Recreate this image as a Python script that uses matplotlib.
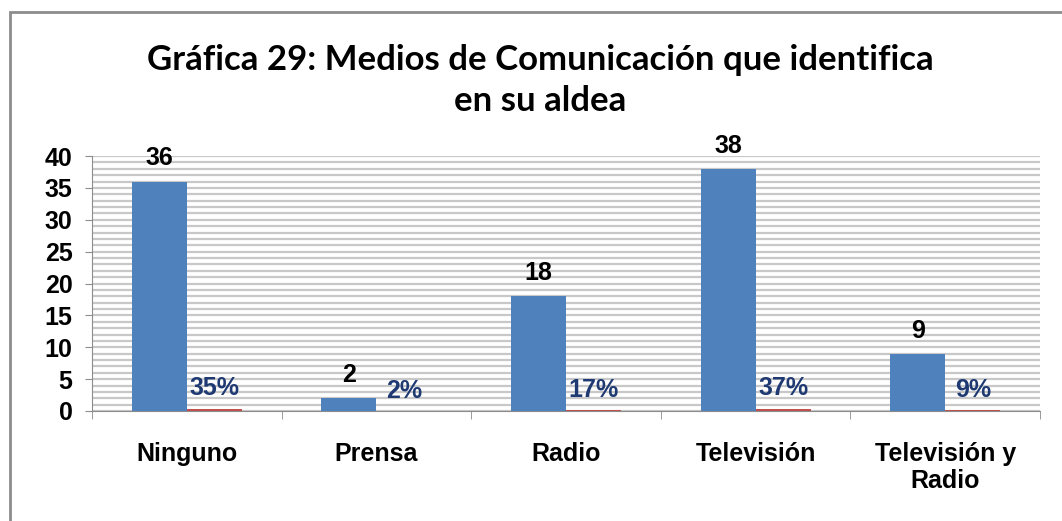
import matplotlib.pyplot as plt
import numpy as np

# Data
categorias = ['Ninguno', 'Prensa', 'Radio', 'Televisión', 'Televisión y\nRadio']
frecuencia = [36, 2, 18, 38, 9]
porcentaje = [0.35, 0.02, 0.17, 0.37, 0.09]
etiquetas_pct = ['35%', '2%', '17%', '37%', '9%']

azul = '#4F81BD'
rojo = '#C0504D'
azul_texto = '#1F3A73'
fuente = 'Liberation Sans'

fig = plt.figure(figsize=(10.62, 5.21), dpi=100)
ax = fig.add_axes([92 / 1062, 110 / 521, 948 / 1062, 255 / 521])

# Outer chart border
fig.patches.append(plt.Rectangle((10 / 1062, -0.05), 1.2, 0.05 + 509 / 521,
                                 transform=fig.transFigure, fill=False,
                                 edgecolor='#8C8C8C', linewidth=2))

x = np.arange(len(categorias))
w = 0.29
b1 = ax.bar(x - w / 2, frecuencia, w, color=azul, zorder=3)
b2 = ax.bar(x + w / 2, porcentaje, w, color=rojo, zorder=3)

for rect, v in zip(b1, frecuencia):
    ax.annotate(str(v), (rect.get_x() + rect.get_width() / 2, rect.get_height()),
                xytext=(0, 8), textcoords='offset points', ha='center', va='bottom',
                fontsize=18, fontweight='bold', family=fuente)
for rect, t in zip(b2, etiquetas_pct):
    ax.annotate(t, (rect.get_x() + rect.get_width() / 2, rect.get_height()),
                xytext=(0, 6), textcoords='offset points', ha='center', va='bottom',
                fontsize=18, fontweight='bold', color=azul_texto, family=fuente)

ax.set_xlim(-0.5, len(categorias) - 0.5)
ax.set_ylim(0, 40)
ax.set_yticks(range(0, 41, 5))
ax.set_yticks(range(0, 41, 1), minor=True)
ax.yaxis.grid(True, which='both', color='#C8C8C8', linewidth=1.6, zorder=0)
ax.set_axisbelow(True)

ax.set_xticks(x)
ax.set_xticklabels(categorias, fontsize=18, fontweight='bold', family=fuente,
                   linespacing=1.2)
ax.set_xticks(np.arange(-0.5, len(categorias), 1), minor=True)
ax.tick_params(axis='x', which='major', length=0, pad=22)
ax.tick_params(axis='x', which='minor', length=6, color='#8C8C8C')
ax.tick_params(axis='y', which='major', length=5, color='#8C8C8C', pad=9)
ax.tick_params(axis='y', which='minor', length=0)
for lab in ax.get_yticklabels():
    lab.set_fontsize(18)
    lab.set_fontweight('bold')
    lab.set_family(fuente)

for s in ['top', 'right']:
    ax.spines[s].set_visible(False)
ax.spines['left'].set_color('#8C8C8C')
ax.spines['bottom'].set_color('#8C8C8C')

fig.text(540 / 1062, 1 - 60 / 521, 'Gráfica 29: Medios de Comunicación que identifica',
         ha='center', va='center', fontsize=25, fontweight='bold', family='Lato')
fig.text(540 / 1062, 1 - 101 / 521, 'en su aldea',
         ha='center', va='center', fontsize=25, fontweight='bold', family='Lato')

fig.savefig('out.png', dpi=100)
